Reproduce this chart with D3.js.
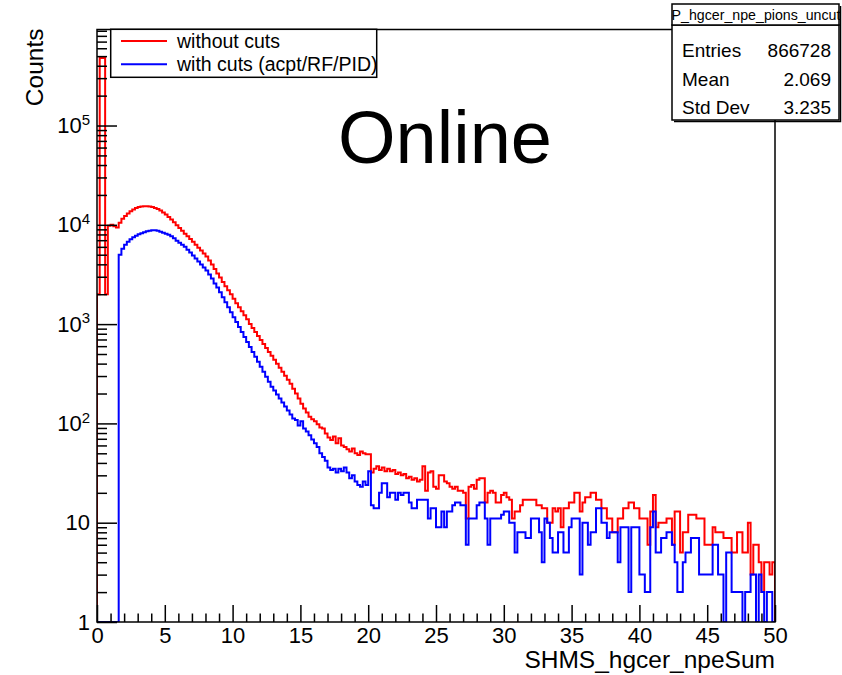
<!DOCTYPE html>
<html>
<head>
<meta charset="utf-8">
<script src="https://cdn.jsdelivr.net/npm/d3@7"></script>
<style>
  body { margin: 0; background: #fff; }
  svg { display: block; }
  text { font-family: "Liberation Sans", Arial, Helvetica, sans-serif; fill: #000; }
</style>
</head>
<body>
<svg id="chart" width="842" height="675"></svg>
<script>
// Histogram binning: 250 bins of width 0.2 over [0, 50]
const binLow = 0;
const binHigh = 50;

// Counts per bin, no cuts applied
const withoutCuts = [
  2000, 480000, 480000, 2000, 9800, 10000, 9700, 9400, 10500, 11500,
  12300, 13000, 13700, 14300, 14800, 15100, 15300, 15400, 15400, 15300,
  15100, 14800, 14400, 13900, 13300, 12700, 12000, 11300, 10600, 9900,
  9300, 8700, 8130, 7670, 7200, 6760, 6310, 5890, 5500, 5130,
  4790, 4365, 3980, 3590, 3240, 2950, 2660, 2400, 2190, 1995,
  1800, 1620, 1480, 1350, 1230, 1120, 1000, 912, 832, 759,
  692, 631, 575, 525, 479, 437, 398, 363, 331, 302,
  275, 251, 224, 200, 178, 158, 141, 129, 117, 110,
  105, 98, 91, 89, 79, 72, 68, 74, 63, 71,
  60, 58, 55, 52, 56, 50, 48, 52, 50, 49,
  49, 32, 35, 37, 34, 36, 33, 35, 33, 34,
  31, 32, 30, 31, 28, 29, 27, 28, 26, 27,
  37, 21, 32, 33, 23, 22, 30, 30, 26, 25,
  23, 22, 23, 21, 21, 20, 11, 23, 24, 22,
  27, 28, 28, 16, 20, 21, 20, 16, 16, 19,
  20, 18, 17, 11, 13, 13, 15, 17, 17, 17,
  17, 17, 15, 15, 14, 14, 10, 10, 14, 13,
  14, 9, 14, 14, 16, 16, 20, 20, 13, 16,
  18, 18, 20, 20, 17, 17, 14, 14, 11, 11,
  8, 8, 11, 11, 14, 14, 16, 16, 14, 14,
  11, 11, 11, 6, 13, 19, 9, 10, 10, 10,
  11, 11, 6, 13, 13, 5, 8, 8, 12, 12,
  12, 11, 11, 11, 6, 6, 6, 9, 8, 8,
  8, 7, 7, 7, 5, 5, 8, 8, 5, 5,
  10, 3, 6, 6, 4, 2, 4, 4, 3, 4
];

// Counts per bin after acceptance / RF / PID cuts
const withCuts = [
  0, 0, 0, 0, 0, 0, 0, 0, 5000, 5750,
  6300, 6760, 7160, 7500, 7760, 8040, 8220, 8410, 8610, 8710,
  8810, 8810, 8710, 8510, 8320, 8130, 7940, 7670, 7330, 6920,
  6610, 6310, 6030, 5620, 5250, 4900, 4570, 4270, 3980, 3720,
  3470, 3160, 2880, 2570, 2340, 2090, 1860, 1660, 1480, 1320,
  1175, 1050, 933, 832, 741, 661, 589, 525, 468, 417,
  372, 331, 295, 263, 234, 214, 195, 178, 162, 148,
  135, 123, 112, 108, 95, 105, 89, 83, 76, 69,
  63, 58, 50, 46, 42, 36, 34, 35, 32, 35,
  33, 36, 32, 28, 30, 26, 24, 23, 26, 24,
  33, 15, 14, 14, 20, 25, 25, 18, 20, 20,
  17, 20, 19, 20, 20, 16, 14, 14, 17, 17,
  17, 17, 11, 14, 14, 9, 9, 13, 9, 13,
  13, 15, 16, 16, 15, 15, 6, 11, 11, 11,
  15, 16, 16, 11, 6, 11, 11, 11, 11, 12,
  13, 13, 10, 10, 5, 8, 8, 8, 7, 7,
  11, 11, 11, 8, 4, 11, 10, 7, 5, 5,
  8, 8, 5, 5, 9, 11, 11, 11, 3, 10,
  10, 6, 8, 8, 14, 14, 10, 10, 7, 8,
  8, 8, 4, 9, 9, 9, 2, 9, 9, 9,
  3, 3, 2, 2, 9, 13, 5, 5, 7, 7,
  8, 8, 6, 4, 2, 2, 4, 5, 5, 7,
  7, 7, 3, 3, 3, 3, 3, 6, 6, 3,
  3, 0, 5, 5, 2, 2, 2, 2, 0, 2,
  2, 3, 3, 0, 3, 2, 0, 2, 2, 0
];

const xMajorTicks = [0, 5, 10, 15, 20, 25, 30, 35, 40, 45, 50];
const yMajorTicks = [1, 10, 100, 1000, 10000, 100000];
const yTop = Math.pow(10, 5.967);

const seriesNames = ["without cuts", "with cuts (acpt/RF/PID)"];
const seriesColors = ["#ff0000", "#0000ff"];
const xTitle = "SHMS_hgcer_npeSum";
const yTitle = "Counts";
const overlayText = "Online";
const statsTitle = "P_hgcer_npe_pions_uncut";
const statsNames = ["Entries", "Mean", "Std Dev"];
const statsValues = ["866728", "2.069", "3.235"];

// ---- frame geometry ----
const frame = { left: 97, right: 775, top: 29.5, bottom: 622 };

const svg = d3.select("#chart");

const x = d3.scaleLinear().domain([binLow, binHigh]).range([frame.left, frame.right]);
const y = d3.scaleLog().domain([1, yTop]).range([frame.bottom, frame.top]);

svg.append("defs").append("clipPath").attr("id", "frameClip")
  .append("rect")
  .attr("x", frame.left).attr("y", frame.top)
  .attr("width", frame.right - frame.left).attr("height", frame.bottom - frame.top);

// step outline of a histogram; empty bins sit on the lower edge of the log axis
function histPoints(vals) {
  const w = (binHigh - binLow) / vals.length;
  const pts = [[binLow, 1]];
  vals.forEach((v, i) => pts.push([binLow + i * w, Math.max(v, 1)]));
  pts.push([binHigh, Math.max(vals[vals.length - 1], 1)]);
  pts.push([binHigh, 1]);
  return pts;
}
const stepLine = d3.line()
  .x(d => x(d[0]))
  .y(d => y(d[1]))
  .curve(d3.curveStepAfter);

const histG = svg.append("g").attr("clip-path", "url(#frameClip)");
[withoutCuts, withCuts].forEach((vals, k) => {
  histG.append("path")
    .attr("d", stepLine(histPoints(vals)))
    .attr("fill", "none")
    .attr("stroke", seriesColors[k])
    .attr("stroke-width", 2)
    .attr("stroke-linejoin", "miter");
});

// ---- axes (ticks pointing into the frame) ----
const xMinor = d3.range(binLow, binHigh + 1, 1).filter(v => v % 5 !== 0);
svg.append("g")
  .attr("transform", `translate(0,${frame.bottom})`)
  .call(d3.axisBottom(x).tickValues(xMinor).tickSize(-8.5).tickSizeOuter(0).tickFormat(""))
  .call(g => g.select(".domain").remove())
  .call(g => g.selectAll("line").attr("stroke", "#000").attr("stroke-width", 1.5));

svg.append("g")
  .attr("transform", `translate(0,${frame.bottom})`)
  .call(d3.axisBottom(x).tickValues(xMajorTicks).tickSize(-17).tickSizeOuter(0).tickPadding(5).tickFormat(d3.format("d")))
  .call(g => g.select(".domain").remove())
  .call(g => g.selectAll("line").attr("stroke", "#000").attr("stroke-width", 1.5))
  .call(g => g.selectAll("text").attr("font-size", 22).attr("font-family", null).attr("fill", "#000"));

const yMinor = [];
for (let e = 0; e <= 5; e++) for (let m = 2; m <= 9; m++) {
  const v = m * Math.pow(10, e);
  if (v < yTop) yMinor.push(v);
}
svg.append("g")
  .attr("transform", `translate(${frame.left},0)`)
  .call(d3.axisLeft(y).tickValues(yMinor).tickSize(-10).tickSizeOuter(0).tickFormat(""))
  .call(g => g.select(".domain").remove())
  .call(g => g.selectAll("line").attr("stroke", "#000").attr("stroke-width", 1.5));

const yAxisG = svg.append("g")
  .attr("transform", `translate(${frame.left},0)`)
  .call(d3.axisLeft(y).tickValues(yMajorTicks).tickSize(-20).tickSizeOuter(0).tickPadding(7).tickFormat(d => String(d)))
  .call(g => g.select(".domain").remove())
  .call(g => g.selectAll("line").attr("stroke", "#000").attr("stroke-width", 1.5));

yAxisG.selectAll("text")
  .attr("font-size", 22).attr("font-family", null).attr("fill", "#000")
  .each(function (d) {
    const exp = Math.round(Math.log10(d));
    if (exp >= 2) {
      const t = d3.select(this).text("10");
      t.append("tspan").attr("dy", "-0.55em").attr("font-size", 15).text(exp);
    }
  });

// frame
svg.append("rect")
  .attr("x", frame.left).attr("y", frame.top)
  .attr("width", frame.right - frame.left).attr("height", frame.bottom - frame.top)
  .attr("fill", "none").attr("stroke", "#000").attr("stroke-width", 1.5);

// axis titles
svg.append("text")
  .attr("x", frame.right).attr("y", 668)
  .attr("text-anchor", "end").attr("font-size", 24.5)
  .text(xTitle);

svg.append("text")
  .attr("transform", `translate(43,${frame.top - 1}) rotate(-90)`)
  .attr("text-anchor", "end").attr("font-size", 24.5)
  .text(yTitle);

// legend
const legend = svg.append("g");
legend.append("rect")
  .attr("x", 110.7).attr("y", 29.3).attr("width", 266).attr("height", 48)
  .attr("fill", "#fff").attr("stroke", "#000").attr("stroke-width", 1.5);
seriesNames.forEach((name, i) => {
  const ly = 41 + i * 23.3;
  legend.append("line")
    .attr("x1", 121).attr("x2", 167).attr("y1", ly).attr("y2", ly)
    .attr("stroke", seriesColors[i]).attr("stroke-width", 2);
  legend.append("text")
    .attr("x", 177).attr("y", ly + 6.5).attr("font-size", 19.5)
    .text(name);
});

// statistics box with a thin drop shadow
const stats = svg.append("g");
stats.append("path")
  .attr("d", "M840.5,6 L840.5,121.5 L674,121.5")
  .attr("fill", "none").attr("stroke", "#000").attr("stroke-width", 1.5);
stats.append("rect")
  .attr("x", 672).attr("y", 25).attr("width", 167).attr("height", 95)
  .attr("fill", "#fff").attr("stroke", "#000").attr("stroke-width", 1.5);
stats.append("rect")
  .attr("x", 672).attr("y", 4).attr("width", 167).attr("height", 21)
  .attr("fill", "#fff").attr("stroke", "#000").attr("stroke-width", 1.5);
stats.append("text")
  .attr("x", 756).attr("y", 20).attr("text-anchor", "middle").attr("font-size", 14.2)
  .text(statsTitle);
statsNames.forEach((n, i) => {
  const by = 57 + i * 28.5;
  stats.append("text").attr("x", 682).attr("y", by).attr("font-size", 19).text(n);
  stats.append("text").attr("x", 831).attr("y", by).attr("text-anchor", "end").attr("font-size", 19).text(statsValues[i]);
});

// overlay label
svg.append("text")
  .attr("x", 445).attr("y", 163).attr("text-anchor", "middle").attr("font-size", 74)
  .text(overlayText);
</script>
</body>
</html>
